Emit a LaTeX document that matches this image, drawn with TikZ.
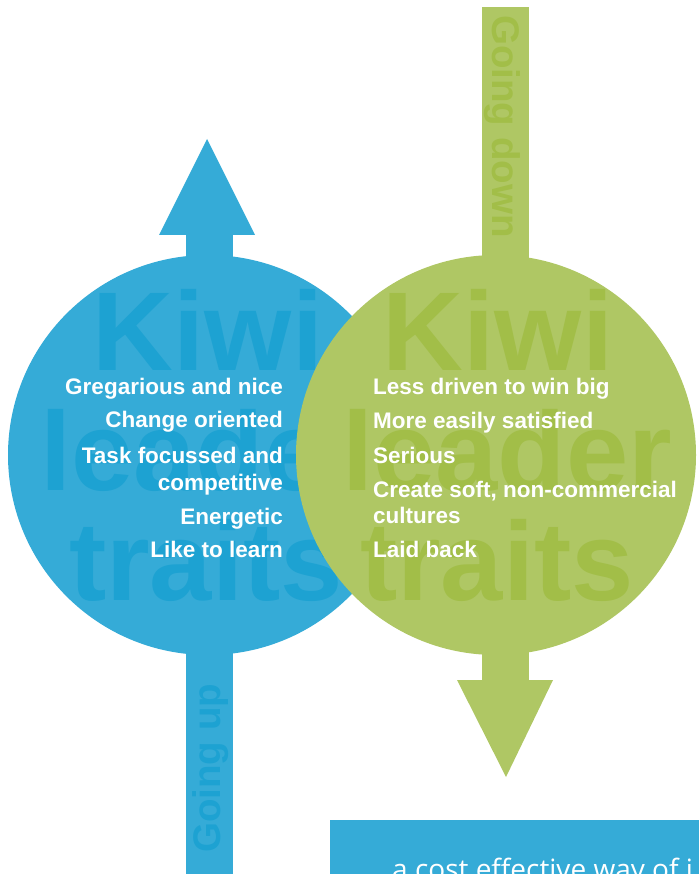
\documentclass[tikz,border=0pt]{standalone}
\usepackage{fontspec}
\setmainfont{Liberation Sans}
\newfontfamily\bodyfont{Open Sans}
\definecolor{kiwiblue}{HTML}{35ABD7}
\definecolor{kiwibluedark}{HTML}{1DA2D2}
\definecolor{kiwigreen}{HTML}{AFC764}
\definecolor{kiwigreendark}{HTML}{A2BE48}
\tikzset{
  bigword/.style={anchor=base, inner sep=0pt, font=\bfseries\fontsize{112}{112}\selectfont},
  trait/.style={inner sep=0pt, text=white, font=\bfseries\fontsize{22.5}{27}\selectfont},
  way/.style={inner sep=0pt, anchor=base west, font=\bfseries\fontsize{38.5}{40}\selectfont},
}

\begin{document}
\begin{tikzpicture}[x=1pt, y=-1pt]
    \useasboundingbox (0,0) rectangle (699,874);
    \clip (0,0) rectangle (699,874);

    % coordinates to be reused
    \coordinate (U) at (208,455);
    \coordinate (D) at (496,455);

    % blue arrow: going up
    \fill [kiwiblue] (159,235) -- (207,139) -- (255,235) -- cycle;
    \fill [kiwiblue] (186,233) rectangle (233,874);
    \fill [kiwiblue] (U) circle (200);
    \node [bigword,text=kiwibluedark] (kiwiU) at (208,370) {Kiwi};
    \node [bigword,text=kiwibluedark] (leaderU) at (205,490) {leader};
    \node [bigword,text=kiwibluedark] (traitsU) at (206,600) {traits};
    \node [way,text=kiwibluedark,rotate=90] (goingU) at (220,853) {Going up};

    % green arrow: going down
    \fill [kiwigreen] (482,7) rectangle (529,682);
    \fill [kiwigreen] (457,680) -- (553,680) -- (506,777) -- cycle;
    \fill [kiwigreen] (D) circle (200);
    \node [bigword,text=kiwigreendark] (kiwiD) at (498,370) {Kiwi};
    \node [bigword,text=kiwigreendark] (leaderD) at (507,490) {leader};
    \node [bigword,text=kiwigreendark] (traitsD) at (497,600) {traits};
    \node [way,text=kiwigreendark,rotate=-90] (goingD) at (492,15) {Going down};

    % traits, going up
    \node [trait,anchor=base east] (u1) at (283,394) {Gregarious and nice};
    \node [trait,anchor=base east] (u2) at (283,427) {Change oriented};
    \node [trait,anchor=base east] (u3) at (283,463) {Task focussed and};
    \node [trait,anchor=base east] (u4) at (283,490) {competitive};
    \node [trait,anchor=base east] (u5) at (283,524) {Energetic};
    \node [trait,anchor=base east] (u6) at (283,557) {Like to learn};

    % traits, going down
    \node [trait,anchor=base west] (d1) at (373,394) {Less driven to win big};
    \node [trait,anchor=base west] (d2) at (373,428) {More easily satisfied};
    \node [trait,anchor=base west] (d3) at (373,463) {Serious};
    \node [trait,anchor=base west] (d4) at (373,497) {Create soft, non-commercial};
    \node [trait,anchor=base west] (d5) at (373,523) {cultures};
    \node [trait,anchor=base west] (d6) at (373,557) {Laid back};

    % box along the lower edge
    \fill [kiwiblue] (330,820) rectangle (699,874);
    \node [inner sep=0pt,anchor=base west,text=white,font=\bodyfont\fontsize{28}{30}\selectfont] (boxtext) at (392,879) {a cost effective way of i};
\end{tikzpicture}
\end{document}
